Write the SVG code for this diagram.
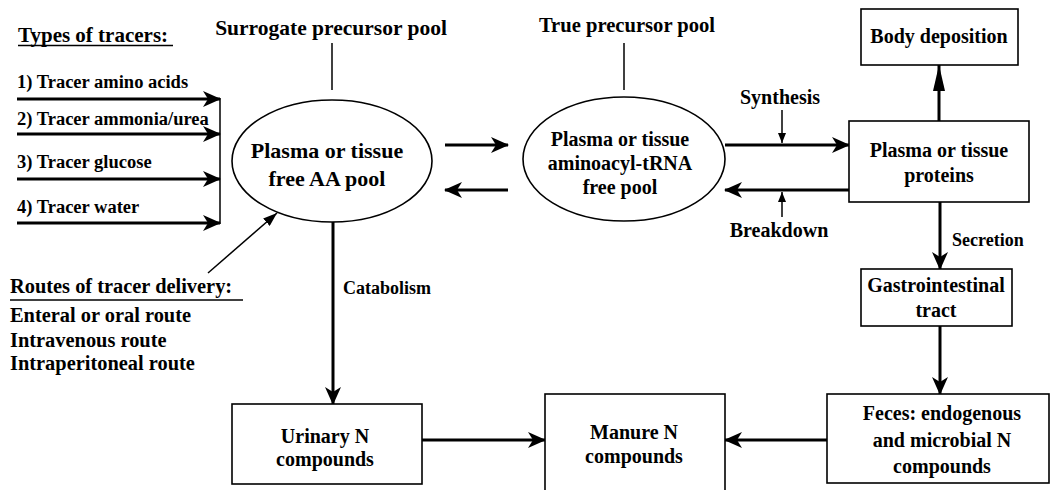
<svg xmlns="http://www.w3.org/2000/svg" width="1050" height="490" viewBox="0 0 1050 490">
<style>
  text { font-family: "Liberation Serif", "Times New Roman", serif; font-weight: bold; fill: #000; }
  .n { font-size: 20px; text-anchor: middle; }
  .big { font-size: 22px; text-anchor: middle; }
  .lbl { font-size: 20px; }
  .tr { font-size: 18.5px; }
  .sm { font-size: 18px; }
  .box { fill: #fff; stroke: #000; stroke-width: 1.6; }
  .ell { fill: #fff; stroke: #000; stroke-width: 1.6; }
  .thin { stroke: #000; stroke-width: 1.5; fill: none; }
  .thick { stroke: #000; stroke-width: 3; fill: none; }
</style>
<defs>
  <marker id="ah" viewBox="0 0 18 16" refX="17" refY="8" markerWidth="18" markerHeight="16" markerUnits="userSpaceOnUse" orient="auto">
    <path d="M0,0 L18,8 L0,16 L5,8 Z" fill="#000"/>
  </marker>
  <marker id="sm" viewBox="0 0 10 8" refX="10" refY="4" markerWidth="10" markerHeight="8" markerUnits="userSpaceOnUse" orient="auto">
    <path d="M0,0 L10,4 L0,8 Z" fill="#000"/>
  </marker>
  <marker id="dg" viewBox="0 0 14 10" refX="14" refY="5" markerWidth="14" markerHeight="10" markerUnits="userSpaceOnUse" orient="auto">
    <path d="M0,0 L14,5 L0,10 Z" fill="#000"/>
  </marker>
  <marker id="tl" viewBox="0 0 26 12" refX="26" refY="6" markerWidth="26" markerHeight="12" markerUnits="userSpaceOnUse" orient="auto">
    <path d="M0,0 L26,6 L0,12 Z" fill="#000"/>
  </marker>
</defs>
<rect width="1050" height="490" fill="#fff"/>

<!-- Legends -->
<g id="tracer-types">
  <text class="lbl" x="18" y="42" style="font-size:21px">Types of tracers:</text>
  <line class="thin" x1="18" y1="45.5" x2="173" y2="45.5"/>
  <text class="tr" x="17" y="88">1) Tracer amino acids</text>
  <text class="tr" x="17" y="125">2) Tracer ammonia/urea</text>
  <text class="tr" x="17" y="168">3) Tracer glucose</text>
  <text class="tr" x="17" y="213">4) Tracer water</text>
</g>
<g id="delivery-routes">
  <text class="lbl" x="10" y="293" style="font-size:20.4px">Routes of tracer delivery:</text>
  <line class="thin" x1="10" y1="300" x2="243" y2="300"/>
  <text class="lbl" x="10" y="322" style="font-size:20.4px">Enteral or oral route</text>
  <text class="lbl" x="10" y="347" style="font-size:20.4px">Intravenous route</text>
  <text class="lbl" x="10" y="370" style="font-size:20.4px">Intraperitoneal route</text>
</g>
<g id="surrogate-label">
  <text class="n" x="331" y="35" style="font-size:21.5px">Surrogate precursor pool</text>
</g>
<g id="true-label">
  <text class="n" x="627" y="32" style="font-size:20.6px">True precursor pool</text>
</g>

<!-- Connectors -->
<g id="connectors">
  <line class="thin" x1="332" y1="43" x2="332" y2="90"/>
  <line class="thin" x1="624" y1="43" x2="624" y2="90"/>
  <line class="thick" x1="17" y1="99" x2="220" y2="99" marker-end="url(#ah)"/>
  <line class="thick" x1="17" y1="134" x2="220" y2="134" marker-end="url(#ah)"/>
  <line class="thick" x1="17" y1="179" x2="220" y2="179" marker-end="url(#ah)"/>
  <line class="thick" x1="17" y1="223" x2="220" y2="223" marker-end="url(#ah)"/>
  <line class="thin" x1="220" y1="98" x2="220" y2="224"/>
  <line class="thin" x1="208" y1="273" x2="277" y2="213" marker-end="url(#dg)"/>
  <line class="thick" x1="333" y1="222" x2="333" y2="404" marker-end="url(#ah)"/>
  <line class="thick" x1="445" y1="145" x2="508" y2="145" marker-end="url(#ah)"/>
  <line class="thick" x1="508" y1="190" x2="445" y2="190" marker-end="url(#ah)"/>
  <line class="thick" x1="725" y1="145" x2="849" y2="145" marker-end="url(#ah)"/>
  <line class="thick" x1="849" y1="190" x2="725" y2="190" marker-end="url(#ah)"/>
  <line class="thin" x1="782" y1="110" x2="782" y2="143" marker-end="url(#sm)"/>
  <line class="thin" x1="782" y1="217" x2="782" y2="192" marker-end="url(#sm)"/>
  <line class="thick" x1="939" y1="121" x2="939" y2="65" marker-end="url(#tl)"/>
  <line class="thick" x1="940" y1="202" x2="940" y2="269" marker-end="url(#ah)"/>
  <line class="thick" x1="940" y1="326" x2="940" y2="394" marker-end="url(#ah)"/>
  <line class="thick" x1="422" y1="440" x2="545" y2="440" marker-end="url(#ah)"/>
  <line class="thick" x1="827" y1="440" x2="725" y2="440" marker-end="url(#ah)"/>
  <text class="sm" x="343" y="294">Catabolism</text>
  <text class="n" x="780" y="104">Synthesis</text>
  <text class="n" x="779" y="237">Breakdown</text>
  <text class="sm" x="952" y="246">Secretion</text>
</g>

<!-- Nodes -->
<g id="free-aa-pool">
  <ellipse class="ell" cx="332" cy="161" rx="100" ry="61"/>
  <text class="big" x="327" y="158">Plasma or tissue</text>
  <text class="big" x="327" y="186">free AA pool</text>
</g>
<g id="trna-pool">
  <ellipse class="ell" cx="624" cy="159" rx="101" ry="62"/>
  <text class="n" x="620" y="146">Plasma or tissue</text>
  <text class="n" x="620" y="170">aminoacyl-tRNA</text>
  <text class="n" x="620" y="194">free pool</text>
</g>
<g id="proteins">
  <rect class="box" x="849" y="121" width="180" height="81"/>
  <text class="n" x="939" y="157">Plasma or tissue</text>
  <text class="n" x="939" y="182">proteins</text>
</g>
<g id="body-deposition">
  <rect class="box" x="861" y="9" width="157" height="56"/>
  <text class="n" x="939" y="43">Body deposition</text>
</g>
<g id="gi-tract">
  <rect class="box" x="861" y="269" width="151" height="57"/>
  <text class="n" x="936" y="292">Gastrointestinal</text>
  <text class="n" x="936" y="317">tract</text>
</g>
<g id="urinary">
  <rect class="box" x="232" y="404" width="190" height="80"/>
  <text class="n" x="325" y="443">Urinary N</text>
  <text class="n" x="325" y="466">compounds</text>
</g>
<g id="manure">
  <rect class="box" x="545" y="394" width="180" height="100"/>
  <text class="n" x="634" y="439">Manure N</text>
  <text class="n" x="634" y="463">compounds</text>
</g>
<g id="feces">
  <rect class="box" x="827" y="394" width="222" height="89"/>
  <text class="n" x="942" y="420">Feces: endogenous</text>
  <text class="n" x="942" y="447">and microbial N</text>
  <text class="n" x="942" y="473">compounds</text>
</g>
</svg>
